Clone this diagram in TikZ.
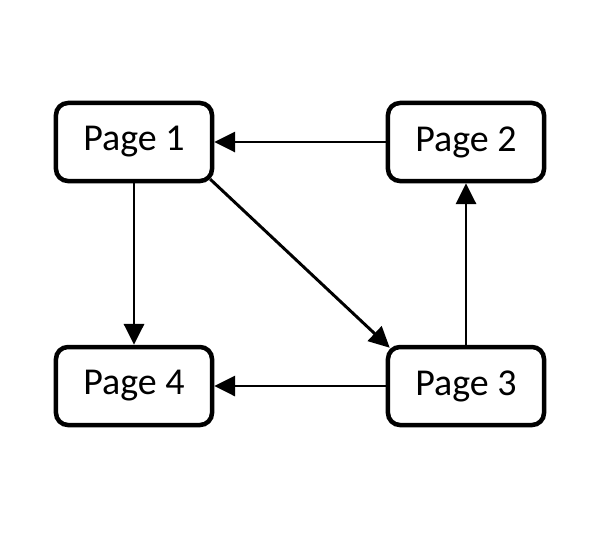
\documentclass[tikz,border=0pt]{standalone}
\usepackage{fontspec}
\setmainfont{Carlito}
\usetikzlibrary{arrows.meta}
\usetikzlibrary{positioning}

\begin{document}
\begin{tikzpicture}[x=0.025cm,y=-0.025cm]
		\tikzset{
			page/.style={draw, line width=3.2pt, rounded corners=0.3cm, minimum width=3.9cm, minimum height=1.95cm, font=\fontsize{27}{32}\selectfont},
			link/.style={line width=2.1pt, -{Triangle[length=0.52cm,width=0.5cm]}}
		}
		\useasboundingbox (0,0) rectangle (615,535);	% page size
		
		% pages
		\node[page] (p1) at (134,142) {Page 1};
		\node[page] (p2) at (466,142) {Page 2};
		\node[page] (p4) at (134,386) {Page 4};
		\node[page] (p3) at (466,386) {Page 3};
		
		% links
		\draw[link] (p2) -- (p1);
		\draw[link] (p1) -- (p4);
		\draw[link] ([shift={(-4,-4)}]p1.south east) -- ([shift={(4,3)}]p3.north west);
		\draw[link] (p3) -- (p2);
		\draw[link] (p3) -- (p4);
\end{tikzpicture}
\end{document}
